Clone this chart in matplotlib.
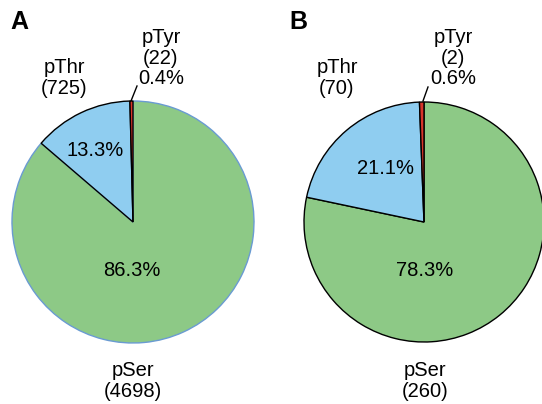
import matplotlib
matplotlib.use("Agg")
import matplotlib.pyplot as plt

# ── Data ──────────────────────────────────────────────────────────────────────
sites = ["pSer", "pThr", "pTyr"]
counts_a = [4698, 725, 22]
counts_b = [260, 70, 2]
panels = ["A", "B"]
# ────────────────────────────────────────────────────────────────────────────────

colors = ["#8dc986", "#8fcdf0", "#d8352a"]
W, H = 542, 404

plt.rcParams["font.family"] = ["Liberation Sans", "DejaVu Sans"]
fig = plt.figure(figsize=(W / 100, H / 100), dpi=100)
ax = fig.add_axes([0, 0, 1, 1])


def py(y):
    # pixel row (top-down) -> data y
    return H - y


def draw_panel(counts, cx, r, letter, pos, ser_edge):
    total = sum(counts)
    pct = [100 * c / total for c in counts]
    wedges, _ = ax.pie(counts, colors=colors, startangle=90, counterclock=False,
                       center=(cx, py(222)), radius=r, frame=True,
                       wedgeprops=dict(edgecolor="black", linewidth=1.0))
    wedges[0].set_edgecolor(ser_edge)
    wedges[1].set_zorder(3)
    wedges[2].set_zorder(3)

    fs = 14.5
    ls = 1.1
    ax.text(pos["letter"][0], py(pos["letter"][1]), letter, fontsize=18,
            fontweight="bold", ha="center", va="center")
    ax.text(pos["ser_pct"][0], py(pos["ser_pct"][1]), f"{pct[0]:.1f}%",
            fontsize=fs, ha="center", va="center")
    ax.text(pos["thr_pct"][0], py(pos["thr_pct"][1]), f"{pct[1]:.1f}%",
            fontsize=fs, ha="center", va="center", zorder=5)
    ax.text(pos["ser_lab"][0], py(pos["ser_lab"][1]),
            f"{sites[0]}\n({counts[0]})", fontsize=fs, ha="center", va="center",
            linespacing=ls)
    ax.text(pos["thr_lab"][0], py(pos["thr_lab"][1]),
            f"{sites[1]}\n({counts[1]})", fontsize=fs, ha="center", va="center",
            linespacing=ls)
    ax.text(pos["tyr_lab"][0], py(pos["tyr_lab"][1]),
            f"{sites[2]}\n({counts[2]})\n{pct[2]:.1f}%", fontsize=fs,
            ha="center", va="center", linespacing=ls)
    (x0, y0), (x1, y1) = pos["leader"]
    ax.plot([x0, x1], [py(y0), py(y1)], color="black", lw=1.0)


draw_panel(counts_a, 133, 121, panels[0], {
    "letter": (19, 22), "ser_pct": (132, 271), "thr_pct": (95, 150),
    "ser_lab": (133, 381), "thr_lab": (64, 78), "tyr_lab": (161, 58),
    "leader": ((131, 101), (137, 86)),
}, ser_edge="#6a9bd2")

draw_panel(counts_b, 424, 120, panels[1], {
    "letter": (298, 22), "ser_pct": (425, 271), "thr_pct": (386, 168),
    "ser_lab": (425, 381), "thr_lab": (337, 78), "tyr_lab": (453, 58),
    "leader": ((423, 101), (428, 87)),
}, ser_edge="black")

ax.set_xlim(0, W)
ax.set_ylim(0, H)
ax.set_aspect("equal")
ax.axis("off")

fig.savefig("out.png", dpi=100)
